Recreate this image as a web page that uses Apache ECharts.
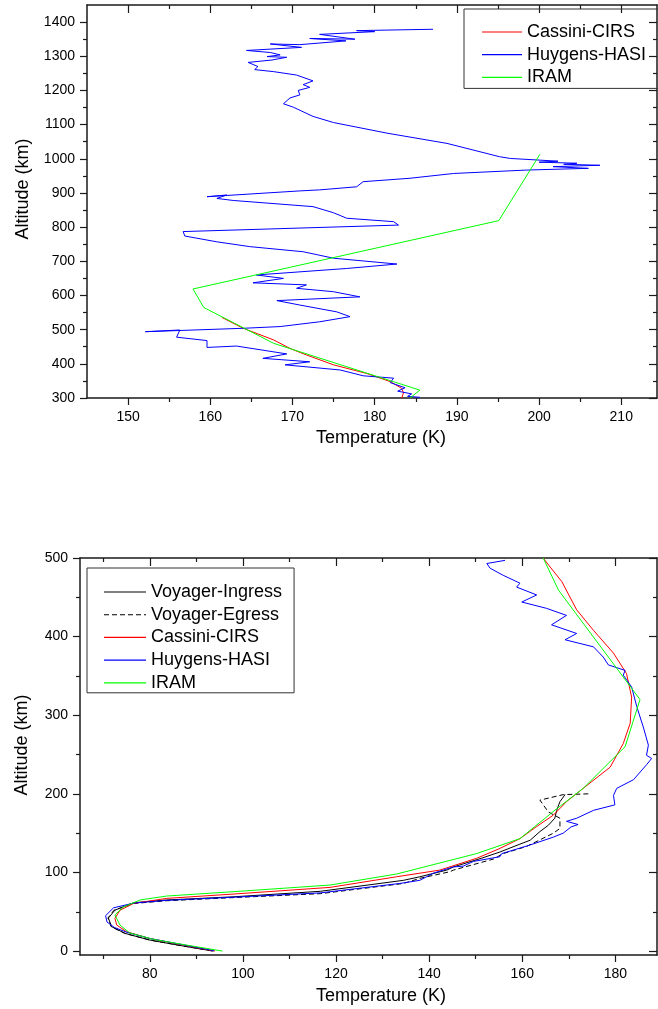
<!DOCTYPE html>
<html>
<head>
<meta charset="utf-8">
<title>Titan temperature profiles</title>
<script src="https://cdn.jsdelivr.net/npm/echarts@6/dist/echarts.min.js"></script>
<style>
    html, body { margin: 0; padding: 0; background: #fff; }
    #chart { width: 658px; height: 1009px; }
</style>
</head>
<body>
<div id="chart"></div>
<script>
// ---- top panel: [temperature K, altitude km] ----
var topCirs = [[161.4,536],[164.0,504],[167.7,470],[169.7,445],[171.7,426],[175.0,397],[179.0,372],[181.9,348],[183.3,328],[183.5,315],[183.3,300]];
var topHasi = [[187.1,1379],[177.8,1375],[180.0,1372],[173.3,1364],[177.6,1350],[172.1,1352],[176.5,1345],[170.9,1334],[167.3,1336],[171.1,1326],[164.4,1317],[167.3,1311],[168.5,1304],[166.9,1299],[169.3,1297],[167.5,1289],[164.6,1282],[165.8,1270],[165.4,1261],[167.7,1255],[170.5,1245],[172.5,1228],[171.3,1217],[172.1,1209],[170.7,1200],[170.9,1187],[169.7,1178],[168.9,1161],[170.1,1151],[172.5,1124],[175.0,1106],[181.5,1075],[188.8,1045],[195.2,1006],[196.5,1001],[202.3,993],[200.0,990],[204.6,987],[203.0,984],[207.4,981],[201.7,977],[206.0,972],[198.5,967],[189.6,957],[184.3,943],[178.6,933],[177.8,918],[173.3,909],[170.9,906],[159.6,889],[162.0,894],[160.8,884],[162.8,878],[172.5,860],[175.0,842],[176.6,826],[182.3,816],[182.9,806],[156.7,787],[156.9,774],[160.8,757],[164.8,743],[171.3,728],[175.0,709],[182.7,692],[176.6,679],[165.6,660],[168.9,650],[165.2,637],[171.7,631],[170.5,621],[175.0,611],[178.2,596],[168.1,585],[170.9,572],[175.4,552],[177.0,538],[173.3,523],[168.5,509],[164.0,504],[152.1,494],[156.3,499],[155.9,478],[159.6,468],[159.6,448],[163.2,452],[169.3,429],[166.4,416],[172.1,406],[169.1,397],[175.8,382],[178.6,365],[182.3,358],[181.9,345],[183.7,330],[182.8,320],[184.5,312],[184.0,305],[185.5,302]];
var topIram = [[200.1,1013],[195.1,819],[157.9,619],[159.2,565],[167.7,460],[185.5,323],[184.3,300]];

// ---- bottom panel ----
var voyIngress = [[169.2,199],[168.1,190],[167.4,179],[167.0,169],[165.6,160],[163.8,152],[161.7,141],[159.5,136],[155.2,126],[151.2,118],[145.2,107],[143.8,103],[138.0,94.5],[134.5,90],[116.6,76],[97.9,69],[83.6,65],[76.5,61.5],[72.5,52],[71.1,42],[71.8,31],[74.7,22.5],[80.0,14],[87.2,6.4],[93.6,0]];
var voyEgress = [[174.2,200],[168.8,199],[163.8,192],[165.6,177],[168.1,169],[168.1,156],[166.7,150],[160.9,133],[155.9,124],[153.8,117],[145.2,103],[144.5,101],[138.0,92.5],[134.5,86],[116.6,73],[97.9,68],[83.6,64],[76.5,60.5],[72.3,52],[71.0,42],[71.7,31],[74.6,22.5],[80.0,14],[87.2,6.4],[93.6,0]];
var botCirs = [[164.5,500],[165.8,490],[168.5,470],[171.7,434],[175.3,408],[179.6,379],[182.4,353],[183.5,323],[183.2,290],[181.7,264],[178.9,234],[173.1,207],[169.5,190],[166.7,173],[163.0,158],[159.5,143],[155.0,130],[150.2,118],[142.3,103],[133.0,94.5],[118.7,81],[97.9,72.5],[83.6,67],[76.5,60.6],[73.6,52],[72.5,41.6],[72.9,33],[75.0,24.6],[80.0,16],[87.2,7.6],[94.0,0]];
var botHasi = [[156.3,497],[152.4,493],[153.1,487],[155.9,478],[159.5,468],[158.8,463],[163.1,453],[159.9,444],[165.2,436],[169.5,427],[166.3,415],[171.7,404],[169.2,396],[175.3,387],[177.4,374],[178.5,364],[182.1,357],[181.7,351],[183.5,336],[184.6,311],[186.0,285],[187.1,262],[186.7,249],[187.8,245],[186.7,237],[183.9,218],[180.3,207],[179.6,198],[179.9,186],[175.3,179],[171.7,169],[169.5,165],[172.0,161],[170.5,158],[168.8,150],[166.7,145],[161.7,135],[159.5,131],[155.6,124],[155.2,120],[149.5,114],[147.3,108],[145.2,107],[143.0,103],[140.9,99],[138.0,90],[133.7,86],[116.6,74],[97.9,68.5],[83.6,64.5],[76.5,61],[72.2,55],[70.5,45],[70.8,37],[72.4,30],[75.0,24],[80.0,16],[87.2,8],[93.8,0.5]];
var botIram = [[164.5,500],[167.8,459],[185.3,320],[182.1,260],[173.1,207],[167.4,181],[159.5,143],[150.2,124],[133.0,98],[118.7,84],[97.9,75.5],[83.6,70],[77.9,65],[74.3,56],[72.5,46],[73.6,33],[75.7,23],[80.7,15],[87.9,7.6],[95.6,0]];

// tick positions
var topXMajor = [150,160,170,180,190,200,210];
var topXMinor = [155,165,175,185,195,205];
var topYMajor = [300,400,500,600,700,800,900,1000,1100,1200,1300,1400];
var topYMinor = [350,450,550,650,750,850,950,1050,1150,1250,1350];
var botXMajor = [80,100,120,140,160,180];
var botXMinor = [70,90,110,130,150,170];
var botYMajor = [0,100,200,300,400,500];
var botYMinor = [50,150,250,350,450];

var FONT = '"Liberation Sans", Arial, sans-serif';
var AXIS_COLOR = '#1a1a1a';
// dashed legend sample, 42 x 1 box
var DASH_ICON = 'path://M0,0h5v1h-5z M8,0h5v1h-5z M16,0h5v1h-5z M24,0h5v1h-5z M32,0h5v1h-5z M40,0h2v1h-2z';

function makeAxis(gridIndex, pos, min, max, ticks, len, inside, withLine, labels) {
    return {
        type: 'value',
        gridIndex: gridIndex,
        position: pos,
        min: min,
        max: max,
        axisLine: { show: withLine, onZero: false, lineStyle: { color: AXIS_COLOR, width: 1.5 } },
        axisTick: { show: true, inside: inside, length: len, customValues: ticks, lineStyle: { color: AXIS_COLOR, width: 1.2 } },
        axisLabel: labels ? {
            show: true, customValues: labels, margin: 12, fontSize: 14, color: '#000', fontFamily: FONT,
            formatter: function (v) { return String(v); }
        } : { show: false },
        splitLine: { show: false }
    };
}

// main side (labels + major/minor ticks outward) and opposite side (ticks inward)
function sideAxes(gridIndex, sides, min, max, major, minor) {
    return [
        makeAxis(gridIndex, sides[0], min, max, major, 7, false, true, major),
        makeAxis(gridIndex, sides[0], min, max, minor, 4, false, false, null),
        makeAxis(gridIndex, sides[1], min, max, major, 8, true, true, null),
        makeAxis(gridIndex, sides[1], min, max, minor, 4, true, false, null)
    ];
}

var xAxes = sideAxes(0, ['bottom', 'top'], 145, 214.35, topXMajor, topXMinor)
    .concat(sideAxes(1, ['bottom', 'top'], 65, 188.95, botXMajor, botXMinor));
var yAxes = sideAxes(0, ['left', 'right'], 300, 1450, topYMajor, topYMinor)
    .concat(sideAxes(1, ['left', 'right'], -5, 500, botYMajor, botYMinor));

function line(name, data, color, axisIdx, dashed) {
    return {
        name: name,
        type: 'line',
        data: data,
        xAxisIndex: axisIdx,
        yAxisIndex: axisIdx,
        symbol: 'none',
        showSymbol: false,
        lineStyle: { color: color, width: 1, type: dashed ? [5, 3] : 'solid' },
        itemStyle: { color: color },
        animation: false
    };
}

var legendText = { fontSize: 18, color: '#000', fontFamily: FONT };

var chart = echarts.init(document.getElementById('chart'));
var options = {
    backgroundColor: '#fff',
    animation: false,
    grid: [
        { left: 87, top: 5, width: 570, height: 393 },
        { left: 80, top: 558, width: 577, height: 397 }
    ],
    xAxis: xAxes,
    yAxis: yAxes,
    legend: [
        {
            data: ['Cassini-CIRS', 'Huygens-HASI', 'IRAM'],
            icon: 'rect',
            orient: 'vertical', left: 464, top: 9,
            padding: [14, 25, 2, 18], itemGap: 4.7,
            itemWidth: 40, itemHeight: 1.2,
            borderColor: '#333', borderWidth: 1,
            selectedMode: false,
            textStyle: legendText
        },
        {
            data: ['Voyager-Ingress', { name: 'Voyager-Egress', icon: DASH_ICON }, 'Cassini-CIRS', 'Huygens-HASI', 'IRAM'],
            icon: 'rect',
            orient: 'vertical', left: 87, top: 568,
            padding: [15, 12, 1, 17], itemGap: 4.7,
            itemWidth: 42, itemHeight: 1.2,
            borderColor: '#333', borderWidth: 1,
            selectedMode: false,
            textStyle: legendText
        }
    ],
    graphic: [
        { type: 'text', x: 23, y: 189, rotation: Math.PI / 2, style: { text: 'Altitude (km)', fontSize: 18, fontFamily: FONT, fill: '#000', align: 'center', verticalAlign: 'middle' } },
        { type: 'text', x: 381, y: 438, style: { text: 'Temperature (K)', fontSize: 18, fontFamily: FONT, fill: '#000', align: 'center', verticalAlign: 'middle' } },
        { type: 'text', x: 22, y: 745, rotation: Math.PI / 2, style: { text: 'Altitude (km)', fontSize: 18, fontFamily: FONT, fill: '#000', align: 'center', verticalAlign: 'middle' } },
        { type: 'text', x: 381, y: 996, style: { text: 'Temperature (K)', fontSize: 18, fontFamily: FONT, fill: '#000', align: 'center', verticalAlign: 'middle' } }
    ],
    series: [
        line('Cassini-CIRS', topCirs, '#ff0000', 0),
        line('Huygens-HASI', topHasi, '#0000ff', 0),
        line('IRAM', topIram, '#00ff00', 0),
        line('Voyager-Ingress', voyIngress, '#000000', 4),
        line('Voyager-Egress', voyEgress, '#000000', 4, true),
        line('Cassini-CIRS', botCirs, '#ff0000', 4),
        line('Huygens-HASI', botHasi, '#0000ff', 4),
        line('IRAM', botIram, '#00ff00', 4)
    ]
};
chart.setOption(options);
</script>
</body>
</html>
